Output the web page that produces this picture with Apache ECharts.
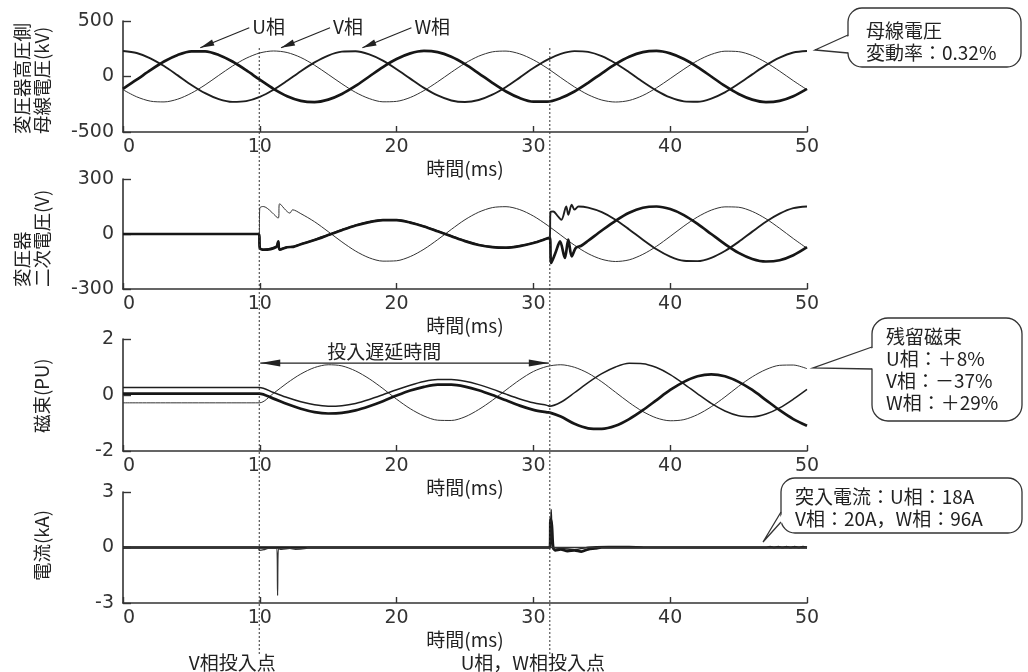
<!DOCTYPE html>
<html><head><meta charset="utf-8">
<script src="https://cdn.jsdelivr.net/npm/echarts@6/dist/echarts.min.js"></script>
<style>html,body{margin:0;padding:0;background:#fff}#c{width:1028px;height:672px}</style>
</head><body><div id="c"></div>
<script>
const FONT = "'Noto Sans CJK JP','Noto Sans',sans-serif";
const NUMFONT = "'DejaVu Sans','Noto Sans CJK JP',sans-serif";

// ---- tick labels ----
const timeTicks = [0, 10, 20, 30, 40, 50];
const busTicks = [-500, 0, 500];
const secTicks = [-300, 0, 300];
const fluxTicks = [-2, 0, 2];
const curTicks = [-3, 0, 3];

// ---- panel 1: bus voltage (kV), sampled every 1 ms ----
const timeMs = [0,1,2,3,4,5,6,7,8,9,10,11,12,13,14,15,16,17,18,19,20,21,22,23,24,25,26,27,28,29,30,31,32,33,34,35,36,37,38,39,40,41,42,43,44,45,46,47,48,49,50];
const busU = [-111,-29,57,135,194,226,226,194,135,57,-29,-111,-177,-219,-230,-208,-157,-85,0,85,157,208,230,219,177,111,29,-57,-135,-194,-226,-226,-194,-135,-57,29,111,177,219,230,208,157,85,0,-85,-157,-208,-230,-219,-177,-111];
const busV = [-119,-183,-222,-229,-204,-150,-76,10,94,164,212,230,216,171,102,19,-66,-143,-199,-228,-224,-189,-127,-48,38,119,183,222,229,204,150,76,-10,-94,-164,-212,-230,-216,-171,-102,-19,66,143,199,228,224,189,127,48,-38,-119];
const busW = [230,212,164,94,10,-76,-150,-204,-229,-222,-183,-119,-38,48,127,189,224,228,199,143,66,-19,-102,-171,-216,-230,-212,-164,-94,-10,76,150,204,229,222,183,119,38,-48,-127,-189,-224,-228,-199,-143,-66,19,102,171,216,230];

// ---- panel 2: transformer secondary voltage (V), [ms, V] ----
const secU = [[0,0],[9.95,0],[10,-76],[10.27,-86],[11.2,-71],[11.35,-40],[11.45,-86],[12,-72],[12.45,-70],[13,-56],[14,-33],[15,-6],[16,21],[17,46],[18,65],[19,76],[20,76],[21,62],[22,41],[23,15],[24,-12],[25,-39],[26,-60],[27,-72],[28,-75],[29,-66],[30,-49],[31,-25],[31.2,-20],[31.3,-158],[31.6,-105],[31.95,-40],[32.3,-131],[32.55,-31],[32.8,-122],[33.1,-76],[33.5,-64],[34,-37],[35,19],[36,72],[37,116],[38,143],[39,150],[40,136],[41,103],[42,55],[43,0],[44,-55],[45,-103],[46,-136],[47,-150],[48,-143],[49,-116],[50,-72]];
const secV = [[0,0],[9.95,0],[10,142],[10.25,150],[11.35,87],[11.45,165],[12.2,114],[12.4,132],[13,111],[14,67],[15,13],[16,-43],[17,-93],[18,-130],[19,-148],[20,-146],[21,-123],[22,-83],[23,-31],[24,25],[25,78],[26,119],[27,144],[28,149],[29,133],[30,98],[31,49],[32,-6],[33,-61],[34,-107],[35,-138],[36,-150],[37,-141],[38,-111],[39,-67],[40,-13],[41,43],[42,93],[43,130],[44,148],[45,146],[46,123],[47,83],[48,31],[49,-25],[50,-78]];
const secW = [[0,0],[9.95,0],[10,-74],[10.27,-84],[11.2,-70],[11.35,-42],[11.45,-84],[12,-71],[12.45,-69],[13,-55],[14,-32],[15,-5],[16,22],[17,47],[18,66],[19,77],[20,77],[21,63],[22,42],[23,16],[24,-11],[25,-38],[26,-59],[27,-71],[28,-74],[29,-65],[30,-48],[31,-24],[31.2,-20],[31.25,120],[31.45,123],[31.8,96],[32.05,78],[32.4,150],[32.55,105],[32.8,160],[33,133],[33.3,150],[34,144],[35,119],[36,78],[37,25],[38,-31],[39,-83],[40,-123],[41,-146],[42,-148],[43,-130],[44,-93],[45,-43],[46,13],[47,67],[48,111],[49,141],[50,150]];

// ---- panel 3: magnetic flux (PU), [ms, PU] ----
const fluxU = [[0,0.05],[9.96,0.05],[11,-0.13],[12,-0.32],[13,-0.49],[14,-0.61],[15,-0.66],[16,-0.64],[17,-0.55],[18,-0.40],[19,-0.22],[20,-0.02],[21,0.16],[22,0.29],[23,0.37],[24,0.37],[25,0.30],[26,0.17],[27,0.00],[28,-0.19],[29,-0.38],[30,-0.53],[31,-0.62],[31.2,-0.63],[32,-0.77],[33,-1.03],[34,-1.19],[35,-1.21],[36,-1.10],[37,-0.86],[38,-0.54],[39,-0.18],[40,0.18],[41,0.47],[42,0.67],[43,0.74],[44,0.67],[45,0.47],[46,0.18],[47,-0.18],[48,-0.54],[49,-0.86],[50,-1.10]];
const fluxV = [[0,-0.28],[9.96,-0.28],[11,0.06],[12,0.43],[13,0.75],[14,0.98],[15,1.08],[16,1.04],[17,0.86],[18,0.58],[19,0.23],[20,-0.15],[21,-0.49],[22,-0.75],[23,-0.90],[24,-0.91],[25,-0.78],[26,-0.52],[27,-0.19],[28,0.18],[29,0.54],[30,0.84],[31,1.02],[32,1.08],[33,0.99],[34,0.78],[35,0.47],[36,0.10],[37,-0.27],[38,-0.59],[39,-0.82],[40,-0.92],[41,-0.88],[42,-0.70],[43,-0.42],[44,-0.07],[45,0.31],[46,0.65],[47,0.91],[48,1.06],[49,1.07],[50,0.94]];
const fluxW = [[0,0.27],[9.96,0.27],[11,0.09],[12,-0.09],[13,-0.24],[14,-0.35],[15,-0.40],[16,-0.38],[17,-0.30],[18,-0.16],[19,0.01],[20,0.19],[21,0.35],[22,0.48],[23,0.55],[24,0.55],[25,0.49],[26,0.37],[27,0.21],[28,0.03],[29,-0.14],[30,-0.28],[31,-0.37],[31.2,-0.40],[32,-0.26],[33,0.08],[34,0.44],[35,0.76],[36,1.00],[37,1.13],[38,1.12],[39,0.98],[40,0.73],[41,0.40],[42,0.04],[43,-0.30],[44,-0.57],[45,-0.74],[46,-0.78],[47,-0.68],[48,-0.46],[49,-0.15],[50,0.20]];

// ---- panel 4: current (kA), [ms, kA] ----
const curU = [[0,0],[31.2,0],[31.25,1.55],[31.35,1.2],[31.45,0],[31.6,-0.15],[32,-0.1],[32.5,-0.2],[33,-0.15],[33.5,-0.22],[34,-0.1],[34.5,-0.05],[35,0],[50,0]];
const curV = [[0,0],[9.9,0],[9.96,-0.15],[10.3,-0.12],[10.6,-0.05],[11.25,-0.05],[11.3,-2.6],[11.36,-0.05],[11.6,-0.1],[12.2,-0.05],[12.6,-0.1],[13.4,-0.05],[13.5,0],[50,0]];
const curW = [[0,0],[31.2,0],[31.3,2.06],[31.38,0.1],[31.5,-0.1],[32,-0.05],[33,-0.12],[34,0.02],[35.5,0.05],[37,0.05],[38,0.02],[47,0],[47.3,0.06],[47.6,0],[47.9,0.06],[48.2,0],[48.5,0.06],[48.8,0],[49.1,0.06],[49.4,0],[49.7,0.06],[50,0]];

// ---- annotation texts ----
const yNameLines = [['変圧器高圧側', '母線電圧(kV)'], ['変圧器', '二次電圧(V)'], ['磁束(PU)'], ['電流(kA)']];
const xName = '時間(ms)';
const phaseLabels = ['U相', 'V相', 'W相'];
const closeTimes = [9.96, 31.2];

const grids = [
  {left:123, width:684, top:21, height:111},
  {left:123, width:684, top:179, height:110},
  {left:123, width:684, top:339, height:112},
  {left:123, width:684, top:492, height:111}
];
const yTicksAll = [busTicks, secTicks, fluxTicks, curTicks];

const axisColor = '#333';
const xAxes = grids.map((g, i) => ({
  type:'value', gridIndex:i, min:timeTicks[0], max:timeTicks[timeTicks.length-1], interval:timeTicks[1]-timeTicks[0],
  name:xName, nameLocation:'middle', nameGap:27,
  nameTextStyle:{fontSize:19, color:'#222', fontFamily:FONT},
  axisLine:{show:true, onZero:false, lineStyle:{color:axisColor, width:1.6}},
  axisTick:{show:true, inside:true, length:6, lineStyle:{color:axisColor, width:1.4}},
  axisLabel:{fontSize:19, color:'#333', margin:6, fontFamily:NUMFONT, alignMinLabel:'left'},
  splitLine:{show:false}
}));
const yAxes = grids.map((g, i) => {
  const t = yTicksAll[i];
  return {
    type:'value', gridIndex:i, min:t[0], max:t[t.length-1], interval:t[1]-t[0],
    axisLine:{show:true, onZero:false, lineStyle:{color:axisColor, width:1.6}},
    axisTick:{show:true, inside:true, length:8, lineStyle:{color:axisColor, width:1.4}},
    axisLabel:{fontSize:19, color:'#333', margin:9, fontFamily:NUMFONT},
    splitLine:{show:false}
  };
});

function mk(idx, data, w, color, z) {
  return {type:'line', xAxisIndex:idx, yAxisIndex:idx, data:data, showSymbol:false, symbol:'none',
    smooth:0.3, lineStyle:{width:w, color:color}, z:z, silent:true, animation:false};
}
const wU = 2.7, wW = 1.9, wV = 1.0;
const cU = '#161616', cW = '#1e1e1e', cV = '#333';
const series = [
  mk(0, timeMs.map((t,i)=>[t,busV[i]]), wV, cV, 2),
  mk(0, timeMs.map((t,i)=>[t,busW[i]]), wW, cW, 3),
  mk(0, timeMs.map((t,i)=>[t,busU[i]]), wU, cU, 4),
  mk(1, secV, wV, cV, 2), mk(1, secW, wW, cW, 3), mk(1, secU, wU, cU, 4),
  mk(2, fluxV, wV, cV, 2), mk(2, fluxW, 1.5, cW, 3), mk(2, fluxU, wU, cU, 4),
  mk(3, curU, wU, cU, 2), mk(3, curW, 1.5, cW, 3), mk(3, curV, 1.3, cV, 4)
];

const chart = echarts.init(document.getElementById('c'), null, {renderer:'canvas', width:1028, height:672});
chart.setOption({
  animation:false,
  backgroundColor:'#fff',
  grid: grids,
  xAxis: xAxes,
  yAxis: yAxes,
  series: series
});

// ---- annotations ----
function head(x1, y1, x2, y2, len, half) {
  const dx = x2-x1, dy = y2-y1, d = Math.hypot(dx, dy), ux = dx/d, uy = dy/d;
  const bx = x2-ux*len, by = y2-uy*len;
  return [[x2,y2],[bx-uy*half, by+ux*half],[bx+uy*half, by-ux*half]];
}
function txt(x, y, text, opt) {
  opt = opt || {};
  return {type:'text', x:x, y:y, rotation:opt.rotation||0, z:120, silent:true,
    style:{text:text, x:0, y:0, fontSize:opt.size||19, fontFamily:FONT, fill:opt.color||'#222',
      align:opt.align||'left', textAlign:opt.align||'left',
      verticalAlign:opt.valign||'middle', textVerticalAlign:opt.valign||'middle',
      lineHeight:opt.lh||20}};
}
const els = [];
const lineStyle = {stroke:'#222', lineWidth:1.1};

// y-axis names (rotated, one element per column)
const nameBottoms = [134, 287, 433, 581];
yNameLines.forEach((lines, i) => {
  const n = lines.length;
  lines.forEach((ln, j) => {
    const colRight = 51 - (n - 1 - j) * 19.5; // right edge of this column
    els.push(txt(colRight, nameBottoms[i], ln, {rotation:Math.PI/2, valign:'bottom', size:18.5, lh:19}));
  });
});

// vertical dotted lines at closing instants
const closeX = closeTimes.map(t => chart.convertToPixel({xAxisIndex:0}, t));
closeX.forEach(x => {
  els.push({type:'line', z:110, silent:true, shape:{x1:x, y1:48, x2:x, y2:656},
    style:{stroke:'#333', lineWidth:1, lineDash:[2,2]}});
});
els.push(txt(closeX[0]-27, 663, 'V相投入点', {align:'center'}));
els.push(txt(closeX[1]-17, 663, 'U相，W相投入点', {align:'center'}));

// phase labels with arrows (panel 1)
const phaseTips = [[5.65, 258], [11.55, 258], [17.5, 258]];
phaseTips.forEach((p, i) => {
  const tip = chart.convertToPixel({gridIndex:0}, p);
  const base = [tip[0]+49, tip[1]-20];
  els.push({type:'line', z:110, silent:true, shape:{x1:base[0], y1:base[1], x2:tip[0], y2:tip[1]}, style:lineStyle});
  els.push({type:'polygon', z:110, silent:true, shape:{points:head(base[0],base[1],tip[0],tip[1],14,3.2)}, style:{fill:'#222'}});
  els.push(txt(base[0]+3, base[1]-1, phaseLabels[i]));
});

// delay-time arrow (panel 3)
const ay = chart.convertToPixel({yAxisIndex:2}, 1.14);
const ax1 = closeX[0]+1, ax2 = closeX[1]-1;
els.push({type:'line', z:110, silent:true, shape:{x1:ax1, y1:ay, x2:ax2, y2:ay}, style:lineStyle});
els.push({type:'polygon', z:110, silent:true, shape:{points:head(ax2,ay,ax1,ay,20,3.5)}, style:{fill:'#222'}});
els.push({type:'polygon', z:110, silent:true, shape:{points:head(ax1,ay,ax2,ay,20,3.5)}, style:{fill:'#222'}});
els.push(txt(ax1+67, ay-11, '投入遅延時間'));

// callouts
function callout(x, y, w, h, r, tail, text, tx, ty) {
  els.push({type:'rect', z:100, silent:true, shape:{x:x, y:y, width:w, height:h, r:r},
    style:{fill:'#fff', stroke:'#333', lineWidth:1.3}});
  const [b1, tip, b2] = tail;
  els.push({type:'polygon', z:101, silent:true,
    shape:{points:[[b1[0]+2.2,b1[1]+0.5], tip, [b2[0]+2.2,b2[1]-0.5]]}, style:{fill:'#fff'}});
  els.push({type:'polyline', z:102, silent:true, shape:{points:[b1, tip, b2]},
    style:{stroke:'#333', lineWidth:1.3, fill:null}});
  els.push(txt(tx, ty, text, {valign:'top', lh:22}));
}
callout(848, 8, 173, 59, 14, [[848,35],[815,50],[848,53]], '母線電圧\n変動率：0.32%', 866, 20);
callout(872, 318, 150, 103, 16, [[872,347],[813,368],[872,369]], '残留磁束\nU相：＋8%\nV相：－37%\nW相：＋29%', 886, 326);
callout(781, 478, 241, 55, 14, [[781,512],[763,542],[781,522]], '突入電流：U相：18A\nV相：20A，W相：96A', 795, 486);

chart.setOption({graphic: els});
</script>
</body></html>
